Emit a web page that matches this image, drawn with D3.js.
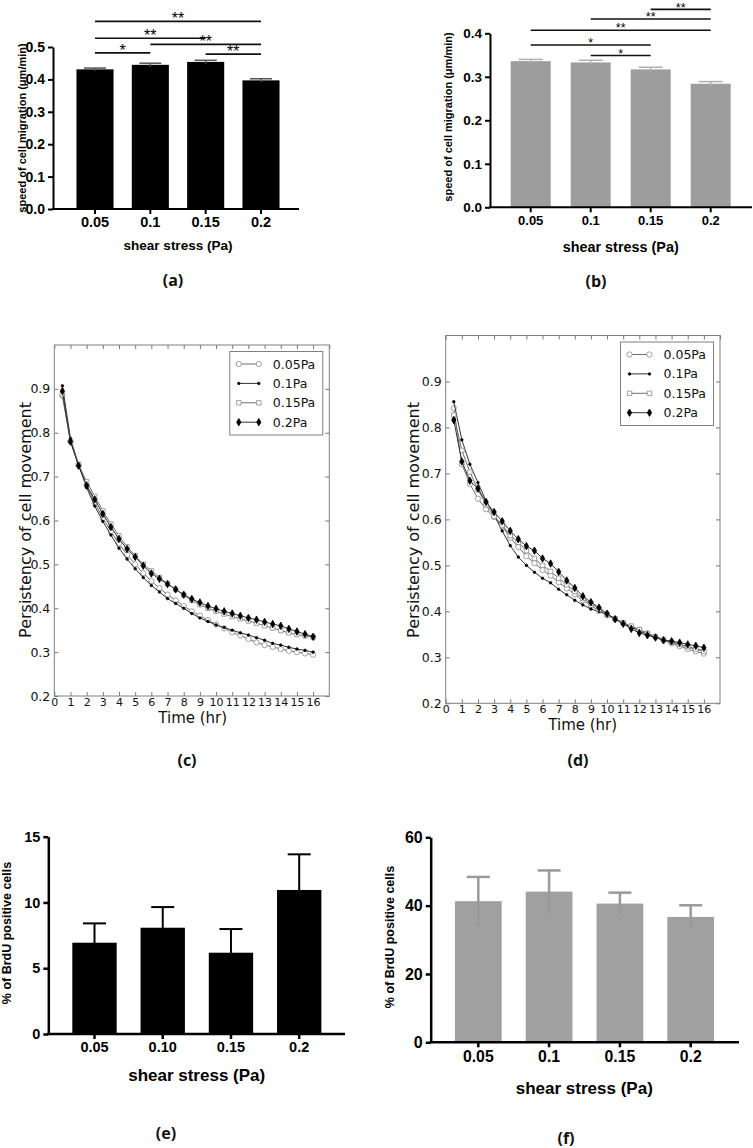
<!DOCTYPE html>
<html>
<head>
<meta charset="utf-8">
<script src="https://cdn.jsdelivr.net/npm/d3@7"></script>
<style>
  body { margin: 0; background: #fff; }
  .gp text { font-family: "Liberation Sans", Arial, sans-serif; font-weight: bold; fill: #000; }
  .mpl text { font-family: "DejaVu Sans", sans-serif; fill: #111; }
  .letter { font-family: "Open Sans", Lato, sans-serif; font-weight: 700; font-size: 16px; fill: #111; }
</style>
</head>
<body>
<svg id="fig" width="753" height="1148"></svg>
<script>
// ---- data ----
var shear = ["0.05", "0.1", "0.15", "0.2"]
var shearE = ["0.05", "0.10", "0.15", "0.2"]

// (a) / (b) speed of migration, um/min
var speedA = [0.431, 0.445, 0.454, 0.397]
var speedAErr = [0.004, 0.005, 0.005, 0.005]
var speedB = [0.336, 0.333, 0.317, 0.284]
var speedBErr = [0.004, 0.005, 0.005, 0.005]

// significance brackets: from, to, label, height (data units)
var sigA = [["0.05", "0.2", "**", 0.579], ["0.05", "0.15", "**", 0.527], ["0.1", "0.2", "**", 0.508],
            ["0.05", "0.1", "*", 0.482], ["0.15", "0.2", "**", 0.478]]
var sigB = [["0.15", "0.2", "**", 0.455], ["0.1", "0.2", "**", 0.433], ["0.05", "0.2", "**", 0.407],
            ["0.05", "0.15", "*", 0.373], ["0.1", "0.15", "*", 0.349]]

// (c) / (d) persistency vs time
var timeHr = [0.5, 1, 1.5, 2, 2.5, 3, 3.5, 4, 4.5, 5, 5.5, 6, 6.5, 7, 7.5, 8,
              8.5, 9, 9.5, 10, 10.5, 11, 11.5, 12, 12.5, 13, 13.5, 14, 14.5, 15, 15.5, 16]
var hrTicks = [0, 1, 2, 3, 4, 5, 6, 7, 8, 9, 10, 11, 12, 13, 14, 15, 16]
var persTicks = [0.2, 0.3, 0.4, 0.5, 0.6, 0.7, 0.8, 0.9]
var seriesNames = ["0.05Pa", "0.1Pa", "0.15Pa", "0.2Pa"]

var persC005 = [0.884, 0.78, 0.725, 0.68, 0.64, 0.605, 0.575, 0.547, 0.522, 0.5, 0.48, 0.462, 0.446, 0.431, 0.418, 0.405,
                0.393, 0.383, 0.373, 0.363, 0.354, 0.345, 0.338, 0.33, 0.322, 0.316, 0.312, 0.307, 0.303, 0.3, 0.297, 0.294]
var persC01 = [0.907, 0.787, 0.727, 0.675, 0.633, 0.598, 0.567, 0.537, 0.512, 0.49, 0.47, 0.452, 0.437, 0.422, 0.411, 0.4,
               0.388, 0.378, 0.37, 0.362, 0.356, 0.35, 0.344, 0.339, 0.333, 0.327, 0.32, 0.316, 0.311, 0.307, 0.304, 0.3]
var persC015 = [0.887, 0.78, 0.728, 0.688, 0.655, 0.622, 0.592, 0.565, 0.54, 0.52, 0.5, 0.485, 0.47, 0.456, 0.443, 0.43,
                0.418, 0.408, 0.4, 0.393, 0.387, 0.381, 0.376, 0.371, 0.366, 0.36, 0.355, 0.349, 0.344, 0.34, 0.337, 0.334]
var persC02 = [0.895, 0.78, 0.725, 0.68, 0.648, 0.615, 0.585, 0.558, 0.535, 0.517, 0.497, 0.479, 0.467, 0.455, 0.443, 0.431,
               0.421, 0.413, 0.405, 0.399, 0.393, 0.388, 0.383, 0.378, 0.374, 0.369, 0.364, 0.36, 0.353, 0.347, 0.341, 0.335]

var persD005 = [0.842, 0.72, 0.677, 0.645, 0.622, 0.605, 0.585, 0.56, 0.54, 0.52, 0.505, 0.49, 0.478, 0.463, 0.45, 0.437,
                0.424, 0.413, 0.401, 0.391, 0.383, 0.374, 0.366, 0.36, 0.352, 0.345, 0.337, 0.33, 0.324, 0.318, 0.313, 0.308]
var persD01 = [0.856, 0.773, 0.72, 0.68, 0.64, 0.61, 0.575, 0.543, 0.518, 0.5, 0.485, 0.472, 0.462, 0.448, 0.436, 0.424,
               0.414, 0.405, 0.4, 0.393, 0.384, 0.374, 0.366, 0.357, 0.35, 0.343, 0.338, 0.333, 0.328, 0.323, 0.318, 0.314]
var persD015 = [0.827, 0.75, 0.703, 0.665, 0.632, 0.607, 0.588, 0.565, 0.55, 0.532, 0.515, 0.5, 0.487, 0.472, 0.458, 0.443,
                0.428, 0.417, 0.405, 0.394, 0.384, 0.375, 0.368, 0.36, 0.352, 0.345, 0.339, 0.333, 0.328, 0.323, 0.318, 0.313]
var persD02 = [0.816, 0.726, 0.684, 0.667, 0.638, 0.616, 0.596, 0.575, 0.557, 0.542, 0.532, 0.515, 0.504, 0.486, 0.467, 0.451,
               0.433, 0.42, 0.408, 0.395, 0.383, 0.373, 0.362, 0.353, 0.348, 0.343, 0.337, 0.335, 0.332, 0.328, 0.325, 0.321]

// (e) / (f) % BrdU positive cells
var brduE = [6.94, 8.08, 6.18, 10.95]
var brduEErr = [1.47, 1.57, 1.80, 2.71]
var brduF = [41.3, 44.1, 40.6, 36.7]
var brduFErr = [7.1, 6.2, 3.2, 3.4]

var svg = d3.select("#fig")

// ---- GraphPad style bar panel ----
function barPanel(o) {
  var g = svg.append("g").attr("class", "gp")
  var step = (o.c1 - o.c0) / (o.cats.length - 1)
  var x = d3.scaleBand().domain(o.cats)
      .range([o.c0 - step / 2, o.c1 + step / 2])
      .paddingInner(o.pad).paddingOuter(o.pad / 2)
  var y = d3.scaleLinear().domain([0, o.ymax]).range([o.y0, o.y1])
  var bw = x.bandwidth()
  var data = o.cats.map(function (c, i) { return {c: c, v: o.vals[i], e: o.errs[i]} })

  g.selectAll("rect.bar").data(data).enter().append("rect")
    .attr("x", d => x(d.c)).attr("y", d => y(d.v))
    .attr("width", bw).attr("height", d => o.y0 - y(d.v))
    .attr("fill", o.fill)

  var eb = g.selectAll("g.err").data(data).enter().append("g")
    .attr("stroke", o.errColor).attr("stroke-width", o.errWidth)
  eb.append("line")
    .attr("x1", d => x(d.c) + bw / 2).attr("x2", d => x(d.c) + bw / 2)
    .attr("y1", d => y(d.v - d.e)).attr("y2", d => y(d.v + d.e))
  eb.append("line")
    .attr("x1", d => x(d.c) + bw / 2 - o.cap / 2).attr("x2", d => x(d.c) + bw / 2 + o.cap / 2)
    .attr("y1", d => y(d.v + d.e)).attr("y2", d => y(d.v + d.e))

  // axes
  var ya = g.append("g").attr("transform", "translate(" + o.ax + ",0)")
    .call(d3.axisLeft(y).tickValues(o.yticks).tickFormat(o.fmt).tickSize(5).tickSizeOuter(0).tickPadding(3))
  ya.selectAll("text").style("font-size", o.tickFont + "px")
  ya.selectAll("line, path").attr("stroke", "#000").attr("stroke-width", o.axisWidth)

  var xa = g.append("g").attr("transform", "translate(0," + o.y0 + ")")
    .call(d3.axisBottom(x).tickSize(5).tickSizeOuter(0).tickPadding(3))
  xa.select(".domain").remove()
  xa.selectAll("text").style("font-size", o.xTickFont + "px")
  xa.selectAll("line").attr("stroke", "#000").attr("stroke-width", o.axisWidth)
  g.append("line").attr("x1", o.ax - 1).attr("x2", o.axEnd)
    .attr("y1", o.y0).attr("y2", o.y0).attr("stroke", "#000").attr("stroke-width", o.axisWidth)

  // titles
  g.append("text").attr("transform", "translate(" + o.ylabX + "," + o.ylabY + ") rotate(-90)")
    .attr("text-anchor", "middle").attr("dy", "0.35em").style("font-size", o.ylabFont + "px")
    .text(o.ylab)
  g.append("text").attr("x", o.xlabX).attr("y", o.xlabY).attr("text-anchor", "middle")
    .style("font-size", o.xlabFont + "px").text("shear stress (Pa)")

  // significance brackets
  if (o.sig) {
    o.sig.forEach(function (s) {
      var x1 = x(s[0]) + bw / 2, x2 = x(s[1]) + bw / 2, yy = y(s[3])
      g.append("line").attr("x1", x1).attr("x2", x2).attr("y1", yy).attr("y2", yy)
        .attr("stroke", "#111").attr("stroke-width", 1.6)
      g.append("text").attr("x", (x1 + x2) / 2).attr("y", yy + o.sigDy).attr("text-anchor", "middle")
        .style("font-size", o.sigFont + "px").style("font-weight", "normal").text(s[2])
    })
  }
  return g
}

barPanel({cats: shear, vals: speedA, errs: speedAErr, ymax: 0.5, yticks: [0, 0.1, 0.2, 0.3, 0.4, 0.5],
  fmt: d3.format(".1f"), c0: 95, c1: 261, pad: 0.33, y0: 209, y1: 47, ax: 53, axEnd: 299,
  fill: "#000", errColor: "#555", errWidth: 1.5, cap: 22, axisWidth: 2, tickFont: 14, xTickFont: 14.5,
  ylab: "speed of cell migration (\u03bcm/min)", ylabX: 22, ylabY: 128, ylabFont: 11,
  xlabX: 178, xlabY: 250, xlabFont: 13.5, sig: sigA, sigDy: 3, sigFont: 16})

barPanel({cats: shear, vals: speedB, errs: speedBErr, ymax: 0.4, yticks: [0, 0.1, 0.2, 0.3, 0.4],
  fmt: d3.format(".1f"), c0: 530.7, c1: 710.7, pad: 0.333, y0: 207.3, y1: 33.3, ax: 490, axEnd: 752,
  fill: "#9d9d9d", errColor: "#b0b0b0", errWidth: 1.5, cap: 24, axisWidth: 2, tickFont: 13.5, xTickFont: 13,
  ylab: "speed of cell migration (\u03bcm/min)", ylabX: 448, ylabY: 117, ylabFont: 11,
  xlabX: 620.7, xlabY: 252, xlabFont: 14.4, sig: sigB, sigDy: 2.2, sigFont: 12.5})

barPanel({cats: shearE, vals: brduE, errs: brduEErr, ymax: 15, yticks: [0, 5, 10, 15],
  fmt: d3.format("d"), c0: 94.5, c1: 299.2, pad: 0.35, y0: 1034, y1: 836.7, ax: 48.3, axEnd: 345,
  fill: "#000", errColor: "#000", errWidth: 2, cap: 23, axisWidth: 2.5, tickFont: 14.5, xTickFont: 14.5,
  ylab: "% of BrdU positive cells", ylabX: 7, ylabY: 933, ylabFont: 12.5,
  xlabX: 196.7, xlabY: 1081, xlabFont: 17})

barPanel({cats: shear, vals: brduF, errs: brduFErr, ymax: 60, yticks: [0, 20, 40, 60],
  fmt: d3.format("d"), c0: 478.3, c1: 690.7, pad: 0.34, y0: 1042.3, y1: 837.3, ax: 430.7, axEnd: 739,
  fill: "#a0a0a0", errColor: "#999", errWidth: 2.5, cap: 23, axisWidth: 2.5, tickFont: 16, xTickFont: 15.8,
  ylab: "% of BrdU positive cells", ylabX: 390, ylabY: 937, ylabFont: 12.5,
  xlabX: 584.3, xlabY: 1094, xlabFont: 17})

// ---- matplotlib style persistency panel ----
var markStyles = [
  {sym: d3.symbolCircle, size: 22, fill: "#fff", stroke: "#8a8a8a", line: "#707070"},
  {sym: d3.symbolCircle, size: 5, fill: "#000", stroke: "#000", line: "#333"},
  {sym: d3.symbolSquare, size: 20, fill: "#fff", stroke: "#8a8a8a", line: "#707070"},
  {sym: d3.symbolDiamond, size: 16, fill: "#000", stroke: "#000", line: "#333"}
]

function persistPanel(o) {
  var g = svg.append("g").attr("class", "mpl")
  var x = d3.scaleLinear().domain([0, 17]).range([o.left, o.right])
  var y = d3.scaleLinear().domain([0.2, 1.0]).range([o.bottom, o.top])

  function styleAxis(sel, font) {
    sel.select(".domain").remove()
    sel.selectAll("line").attr("stroke", "#777")
    sel.selectAll("text").style("font-size", font + "px")
  }
  styleAxis(g.append("g").attr("transform", "translate(0," + o.bottom + ")")
    .call(d3.axisBottom(x).tickValues(hrTicks).tickFormat(d3.format("d")).tickSizeInner(-4).tickSizeOuter(0).tickPadding(2)), 11)
  styleAxis(g.append("g").attr("transform", "translate(0," + o.top + ")")
    .call(d3.axisTop(x).ticks(17).tickFormat("").tickSizeInner(-4).tickSizeOuter(0)), 11)
  styleAxis(g.append("g").attr("transform", "translate(" + o.left + ",0)")
    .call(d3.axisLeft(y).tickValues(persTicks).tickFormat(d3.format(".1f")).tickSizeInner(-4).tickSizeOuter(0).tickPadding(4)), 12.5)
  styleAxis(g.append("g").attr("transform", "translate(" + o.right + ",0)")
    .call(d3.axisRight(y).tickValues(persTicks).tickFormat("").tickSizeInner(-4).tickSizeOuter(0)), 12.5)

  var line = d3.line().x((d, i) => x(timeHr[i])).y(d => y(d))
  o.series.forEach(function (vals, k) {
    var st = markStyles[k]
    g.append("path").datum(vals).attr("d", line).attr("fill", "none")
      .attr("stroke", st.line).attr("stroke-width", 1)
    g.selectAll("path.m" + k).data(vals).enter().append("path").attr("class", "m" + k)
      .attr("d", d3.symbol().type(st.sym).size(st.size))
      .attr("transform", (d, i) => "translate(" + x(timeHr[i]) + "," + y(d) + ")")
      .attr("fill", st.fill).attr("stroke", st.stroke).attr("stroke-width", 0.8)
  })

  g.append("rect").attr("x", o.left).attr("y", o.top)
    .attr("width", o.right - o.left).attr("height", o.bottom - o.top)
    .attr("fill", "none").attr("stroke", "#808080").attr("stroke-width", 1)

  // legend
  var lg = g.append("g").attr("transform", "translate(" + (o.right - 6.5 - 93) + "," + (o.top + 6.5) + ")")
  lg.append("rect").attr("width", 93).attr("height", 83.5).attr("fill", "#fff")
    .attr("stroke", "#808080").attr("stroke-width", 1)
  seriesNames.forEach(function (name, k) {
    var st = markStyles[k], yy = 12.5 + k * 19.4
    lg.append("line").attr("x1", 9).attr("x2", 29).attr("y1", yy).attr("y2", yy)
      .attr("stroke", st.line).attr("stroke-width", 1)
    ;[9, 29].forEach(function (mx) {
      lg.append("path").attr("d", d3.symbol().type(st.sym).size(st.size))
        .attr("transform", "translate(" + mx + "," + yy + ")")
        .attr("fill", st.fill).attr("stroke", st.stroke).attr("stroke-width", 0.8)
    })
    lg.append("text").attr("x", 43).attr("y", yy).attr("dy", "0.36em")
      .style("font-size", "12.5px").text(name)
  })

  g.append("text").attr("transform", "translate(" + o.ylabX + "," + o.ylabY + ") rotate(-90)")
    .attr("text-anchor", "middle").attr("dy", "0.35em").style("font-size", "16px")
    .text("Persistency of cell movement")
  g.append("text").attr("x", o.xlabX).attr("y", o.xlabY).attr("text-anchor", "middle")
    .style("font-size", "15px").text("Time (hr)")
}

persistPanel({left: 54.3, right: 329.3, top: 345, bottom: 696,
  series: [persC005, persC01, persC015, persC02], ylabX: 25, ylabY: 520, xlabX: 192.7, xlabY: 723})
persistPanel({left: 445.7, right: 720, top: 335.5, bottom: 703.3,
  series: [persD005, persD01, persD015, persD02], ylabX: 413, ylabY: 520, xlabX: 582.7, xlabY: 730})

// panel letters
var letters = [["(a)", 173, 286], ["(b)", 596, 287], ["(c)", 187, 766], ["(d)", 578, 766], ["(e)", 166, 1139], ["(f)", 566, 1144]]
svg.selectAll("text.letter").data(letters).enter().append("text").attr("class", "letter")
  .attr("x", d => d[1]).attr("y", d => d[2]).attr("text-anchor", "middle").text(d => d[0])
</script>
</body>
</html>
